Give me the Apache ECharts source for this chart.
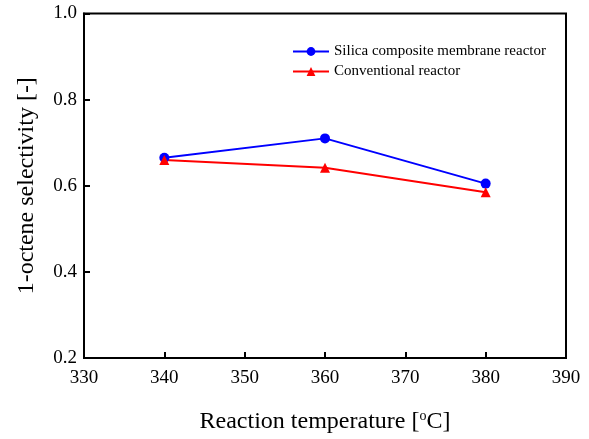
<!DOCTYPE html>
<html>
<head>
<meta charset="utf-8">
<script src="https://cdn.jsdelivr.net/npm/echarts@6/dist/echarts.min.js"></script>
<style>html,body{margin:0;padding:0;background:#fff}#c{width:589px;height:439px}</style>
</head>
<body>
<div id="c"></div>
<script>
var temperatures = [340, 360, 380];
var membraneSelectivity = [0.665, 0.71, 0.605];
var conventionalSelectivity = [0.66, 0.642, 0.585];
var seriesNames = ['Silica composite membrane reactor', 'Conventional reactor'];

var font = '"Liberation Serif", "Times New Roman", serif';
var chart = echarts.init(document.getElementById('c'));
function pairs(xs, ys) { return xs.map(function (x, i) { return [x, ys[i]]; }); }
chart.setOption({
  animation: false,
  backgroundColor: '#fff',
  grid: { left: 84, right: 23, top: 13.5, bottom: 78, show: true, borderColor: '#000', borderWidth: 2 },
  legend: {
    orient: 'vertical', left: 287, top: 39, itemWidth: 36, itemHeight: 11, itemGap: 5,
    textStyle: { fontFamily: font, fontSize: 15, color: '#000' },
    data: seriesNames
  },
  xAxis: {
    type: 'value', min: 330, max: 390, interval: 10,
    axisLine: { lineStyle: { color: '#000', width: 2 } },
    axisTick: { inside: true, length: 6, lineStyle: { color: '#000', width: 2 } },
    axisLabel: { fontFamily: font, fontSize: 19, color: '#000', margin: 11, showMinLabel: true, showMaxLabel: true },
    splitLine: { show: false },
    name: 'Reaction temperature [{sup|o}C]', nameLocation: 'middle', nameGap: 51,
    nameTextStyle: { fontFamily: font, fontSize: 24, color: '#000',
      rich: { sup: { fontFamily: font, fontSize: 14, color: '#000', verticalAlign: 'top', padding: [0, 0, 12, 0] } } }
  },
  yAxis: {
    type: 'value', min: 0.2, max: 1.0, interval: 0.2,
    axisLine: { show: true, lineStyle: { color: '#000', width: 2 } },
    axisTick: { show: true, inside: true, length: 6, lineStyle: { color: '#000', width: 2 } },
    axisLabel: { fontFamily: font, fontSize: 19, color: '#000', margin: 7, formatter: function (v) { return v.toFixed(1); } },
    splitLine: { show: false },
    name: '1-octene selectivity [-]', nameLocation: 'middle', nameGap: 45,
    nameTextStyle: { fontFamily: font, fontSize: 24, color: '#000' }
  },
  series: [
    { name: seriesNames[0], type: 'line', data: pairs(temperatures, membraneSelectivity),
      symbol: 'circle', symbolSize: 10, lineStyle: { color: '#0000ff', width: 2 }, itemStyle: { color: '#0000ff' } },
    { name: seriesNames[1], type: 'line', data: pairs(temperatures, conventionalSelectivity),
      symbol: 'triangle', symbolSize: 10, lineStyle: { color: '#ff0000', width: 2 }, itemStyle: { color: '#ff0000' } }
  ]
});
</script>
</body>
</html>
